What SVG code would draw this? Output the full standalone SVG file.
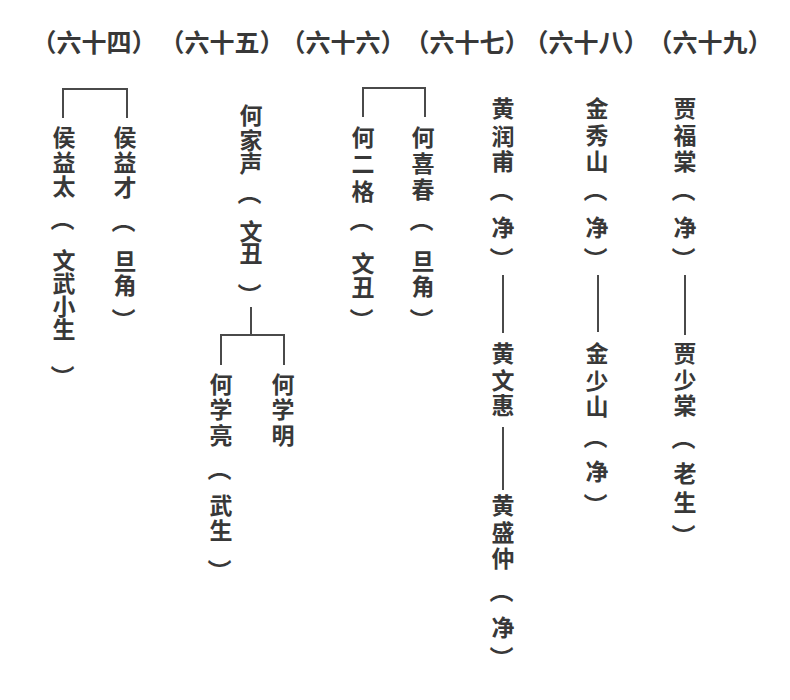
<svg xmlns="http://www.w3.org/2000/svg" width="790" height="700" viewBox="0 0 790 700">
<style>
.h{font-family:"Noto Sans CJK SC","Noto Sans CJK TC",sans-serif;font-size:25px;font-weight:700;fill:#383838;text-anchor:middle}
.t{font-family:"Noto Sans CJK SC","Noto Sans CJK TC",sans-serif;font-size:23px;font-weight:700;fill:#383838;text-anchor:middle}
.o,.e{font-family:"Noto Sans CJK SC","Noto Sans CJK TC",sans-serif;font-size:24px;font-weight:700;fill:#383838;dominant-baseline:central}
.c{fill:none;stroke:#4a4a4a;stroke-width:2}
</style>
<rect width="790" height="700" fill="#ffffff"/>
<g id="headers">
<text class="h" x="94" y="52">（六十四）</text>
<text class="h" x="222" y="52">（六十五）</text>
<text class="h" x="343" y="52">（六十六）</text>
<text class="h" x="467" y="52">（六十七）</text>
<text class="h" x="586" y="52">（六十八）</text>
<text class="h" x="710" y="52">（六十九）</text>
</g>
<g id="connectors">
<path class="c" d="M63,118 V89 H127 V118"/>
<path class="c" d="M251,307 V335 M221,365 V335 H284 V365"/>
<path class="c" d="M363,117 V88 H425 V117"/>
<path class="c" d="M503,275 V333 M503,427 V490"/>
<path class="c" d="M598,275 V332"/>
<path class="c" d="M685,275 V335"/>
</g>
<g id="hou-yitai">
<text class="t" x="64 64 64" y="146 171 195">侯益太</text>
<text class="o" transform="translate(64,224) rotate(90)" x="-17" y="0">（</text>
<text class="t" x="64 64 64 64" y="269 292 315 338">文武小生</text>
<text class="e" transform="translate(64,372) rotate(90)" x="-7" y="0">）</text>
</g>
<g id="hou-yicai">
<text class="t" x="125 125 125" y="146 171 196">侯益才</text>
<text class="o" transform="translate(125,226) rotate(90)" x="-17" y="0">（</text>
<text class="t" x="125 125" y="270 294">旦角</text>
<text class="e" transform="translate(125,315) rotate(90)" x="-7" y="0">）</text>
</g>
<g id="he-jiasheng">
<text class="t" x="251 251 251" y="124 149 172">何家声</text>
<text class="o" transform="translate(251,198) rotate(90)" x="-17" y="0">（</text>
<text class="t" x="251 251" y="240 262">文丑</text>
<text class="e" transform="translate(251,290) rotate(90)" x="-7" y="0">）</text>
</g>
<g id="he-xueliang">
<text class="t" x="221 221 221" y="393 418 444">何学亮</text>
<text class="o" transform="translate(221,474) rotate(90)" x="-17" y="0">（</text>
<text class="t" x="221 221" y="514 539">武生</text>
<text class="e" transform="translate(221,566) rotate(90)" x="-7" y="0">）</text>
</g>
<g id="he-xueming">
<text class="t" x="283 283 283" y="393 418 444">何学明</text>
</g>
<g id="he-erge">
<text class="t" x="363 363 363" y="146 172 200">何二格</text>
<text class="o" transform="translate(363,225) rotate(90)" x="-17" y="0">（</text>
<text class="t" x="363 363" y="272 296">文丑</text>
<text class="e" transform="translate(363,315) rotate(90)" x="-7" y="0">）</text>
</g>
<g id="he-xichun">
<text class="t" x="423 423 423" y="146 172 198">何喜春</text>
<text class="o" transform="translate(423,225) rotate(90)" x="-17" y="0">（</text>
<text class="t" x="423 423" y="270 295">旦角</text>
<text class="e" transform="translate(423,315) rotate(90)" x="-7" y="0">）</text>
</g>
<g id="huang-runfu">
<text class="t" x="503 503 503" y="117 145 170">黄润甫</text>
<text class="o" transform="translate(503,195) rotate(90)" x="-17" y="0">（</text>
<text class="t" x="503" y="236">净</text>
<text class="e" transform="translate(503,254) rotate(90)" x="-7" y="0">）</text>
</g>
<g id="huang-wenhui">
<text class="t" x="503 503 503" y="362 389 414">黄文惠</text>
</g>
<g id="huang-shengzhong">
<text class="t" x="503 503 503" y="514 541 567">黄盛仲</text>
<text class="o" transform="translate(503,596) rotate(90)" x="-17" y="0">（</text>
<text class="t" x="503" y="636">净</text>
<text class="e" transform="translate(503,653) rotate(90)" x="-7" y="0">）</text>
</g>
<g id="jin-xiushan">
<text class="t" x="597 597 597" y="117 144 170">金秀山</text>
<text class="o" transform="translate(597,195) rotate(90)" x="-17" y="0">（</text>
<text class="t" x="597" y="236">净</text>
<text class="e" transform="translate(597,254) rotate(90)" x="-7" y="0">）</text>
</g>
<g id="jin-shaoshan">
<text class="t" x="597 597 597" y="362 390 415">金少山</text>
<text class="o" transform="translate(597,442) rotate(90)" x="-17" y="0">（</text>
<text class="t" x="597" y="480">净</text>
<text class="e" transform="translate(597,500) rotate(90)" x="-7" y="0">）</text>
</g>
<g id="jia-futang">
<text class="t" x="685 685 685" y="117 144 170">贾福棠</text>
<text class="o" transform="translate(685,195) rotate(90)" x="-17" y="0">（</text>
<text class="t" x="685" y="236">净</text>
<text class="e" transform="translate(685,254) rotate(90)" x="-7" y="0">）</text>
</g>
<g id="jia-shaotang">
<text class="t" x="685 685 685" y="362 389 414">贾少棠</text>
<text class="o" transform="translate(685,443) rotate(90)" x="-17" y="0">（</text>
<text class="t" x="685 685" y="482 511">老生</text>
<text class="e" transform="translate(685,531) rotate(90)" x="-7" y="0">）</text>
</g>
</svg>
